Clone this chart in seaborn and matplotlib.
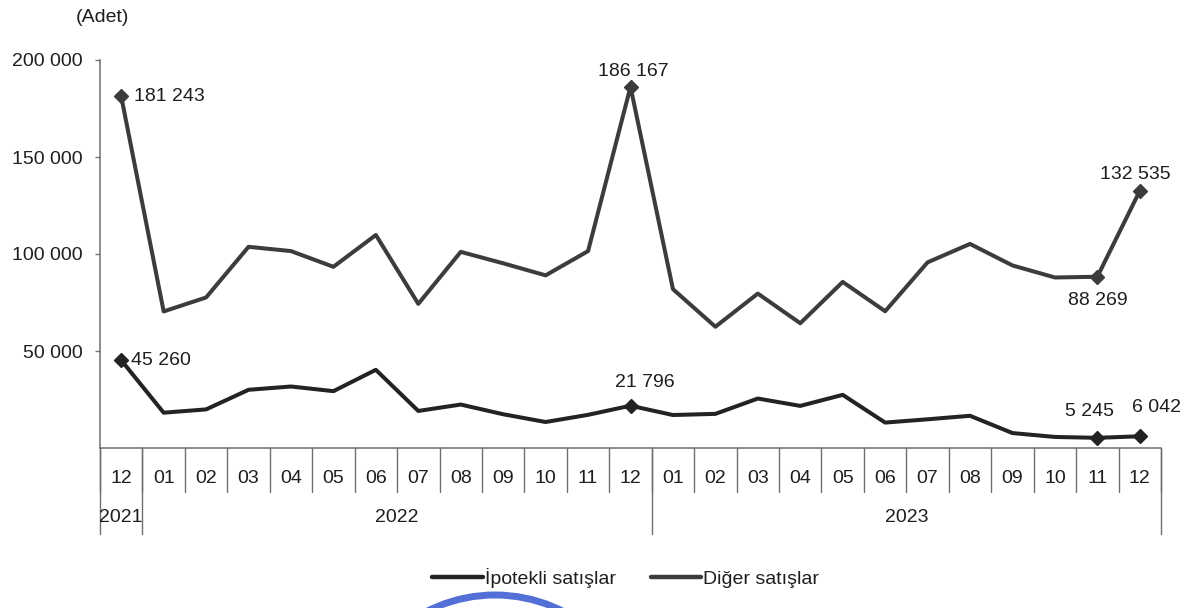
import matplotlib
matplotlib.use("Agg")
import matplotlib.pyplot as plt
import matplotlib.transforms as mtransforms
from matplotlib.lines import Line2D
from matplotlib.patches import Ellipse
import numpy as np
import pandas as pd
import seaborn as sns

# Monthly house sales, 12/2021 - 12/2023
months = ["12", "01", "02", "03", "04", "05", "06", "07", "08", "09", "10", "11", "12",
          "01", "02", "03", "04", "05", "06", "07", "08", "09", "10", "11", "12"]
years = ["2021", "2022", "2023"]
year_sizes = [1, 12, 12]

ipotekli = [45260, 18200, 19900, 30000, 31700, 29300, 40300, 19100, 22400, 17400, 13400, 17100,
            21796, 17000, 17600, 25500, 21700, 27400, 13100, 14800, 16600, 7700, 5700, 5245, 6042]
diger = [181243, 70400, 77600, 103700, 101500, 93400, 109800, 74300, 101100, 95200, 89000, 101500,
         186167, 81900, 62500, 79600, 64300, 85600, 70500, 95700, 105200, 94100, 87900, 88269, 132535]

series_names = ["İpotekli satışlar", "Diğer satışlar"]
y_ticks = [50000, 100000, 150000, 200000]
unit_label = "(Adet)"
labeled_idx = [0, 12, 23, 24]

sns.set_theme(style="white")
plt.rcParams["font.family"] = ["Liberation Sans", "DejaVu Sans"]
plt.rcParams["font.size"] = 14
plt.rcParams["text.color"] = "#1e1e1e"


def fmt(v):
    return f"{v:,}".replace(",", " ")


W, H = 1187, 608
fig = plt.figure(figsize=(W / 100, H / 100), dpi=100)
fig.patch.set_facecolor("white")
ax = fig.add_axes([100 / W, 1 - 448 / H, (1161 - 100) / W, (448 - 60) / H])

x = np.arange(len(months))
df = pd.DataFrame({
    "ay": np.concatenate([x, x]),
    "adet": ipotekli + diger,
    "seri": [series_names[0]] * len(x) + [series_names[1]] * len(x),
})
colors = {series_names[0]: "#232323", series_names[1]: "#3c3c3c"}
sns.lineplot(data=df, x="ay", y="adet", hue="seri", hue_order=series_names,
             palette=colors, linewidth=2.9, ax=ax, legend=False)

# diamond markers on the labelled months
for name, vals in zip(series_names, [ipotekli, diger]):
    ax.plot(x[labeled_idx], [vals[i] for i in labeled_idx], linestyle="none",
            marker="D", markersize=7.5, color=colors[name], zorder=5)

# value labels (offsets in points, alignment)
label_style_diger = {0: ((9, 0), "left"), 12: ((2, 11), "center"),
                     23: ((0, -17), "center"), 24: ((-3, 12), "center")}
label_style_ipotekli = {0: ((7, 0), "left"), 12: ((10, 17), "center"),
                        23: ((-6, 19), "center"), 24: ((12, 21), "center")}
for vals, styles in [(diger, label_style_diger), (ipotekli, label_style_ipotekli)]:
    for i in labeled_idx:
        off, ha = styles[i]
        ax.annotate(fmt(vals[i]), (x[i], vals[i]), xytext=off, textcoords="offset points",
                    ha=ha, va="center", fontsize=14, color="#1e1e1e")

ax.set_xlim(-0.5, len(months) - 0.5)
ax.set_ylim(0, 200000)
ax.set_xlabel("")
ax.set_ylabel("")

ax.set_yticks(y_ticks)
ax.set_yticklabels([fmt(v) for v in y_ticks])
ax.tick_params(axis="y", left=True, length=3.6, width=1, color="#777777", pad=9,
               labelsize=14, labelcolor="#1e1e1e")

ax.set_xticks(x)
ax.set_xticklabels(months)
ax.tick_params(axis="x", bottom=False, length=0, pad=16, labelsize=14, labelcolor="#1e1e1e")

sns.despine(ax=ax)
for side in ["left", "bottom"]:
    ax.spines[side].set_color("#6e6e6e")
    ax.spines[side].set_linewidth(1.1)

# category separators below the axis
blend = mtransforms.blended_transform_factory(ax.transData, ax.transAxes)
for b in np.arange(-0.5, len(months)):
    ax.plot([b, b], [0, -0.113], transform=blend, clip_on=False, color="#6e6e6e", lw=1)
year_edges = np.concatenate([[0], np.cumsum(year_sizes)]) - 0.5
for b in year_edges:
    ax.plot([b, b], [0, -0.222], transform=blend, clip_on=False, color="#6e6e6e", lw=1)

# year labels centred under their months
for yr, lo, hi in zip(years, year_edges[:-1], year_edges[1:]):
    ax.text((lo + hi) / 2, -0.178, yr, transform=blend, ha="center", va="center",
            fontsize=14, color="#1e1e1e")

fig.text(102 / W, 1 - 17 / H, unit_label, ha="center", va="center", fontsize=14, color="#1e1e1e")

handles = [Line2D([0], [0], color=colors[n], lw=3.2) for n in series_names]
fig.legend(handles, series_names, loc="center", bbox_to_anchor=(0.527, 1 - 578 / H),
           ncol=2, frameon=False, handlelength=2.6, handletextpad=0.1,
           columnspacing=1.8, fontsize=14)

# office stamp at the foot of the page
r = 150
stamp = Ellipse((495 / W, 1 - 745 / H), 2 * r / W, 2 * r / H, transform=fig.transFigure,
                fill=False, edgecolor="#3557d0", lw=5, alpha=0.85)
fig.add_artist(stamp)

fig.savefig("out.png", dpi=100, facecolor="white")
